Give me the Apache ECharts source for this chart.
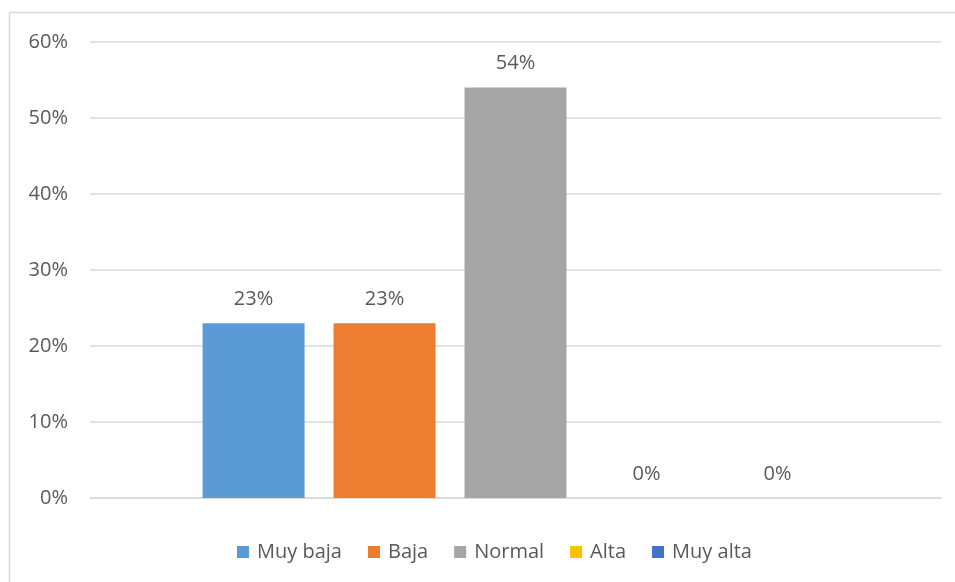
<!DOCTYPE html>
<html>
<head>
<meta charset="utf-8">
<script src="https://cdn.jsdelivr.net/npm/echarts@6/dist/echarts.min.js"></script>
<style>html,body{margin:0;padding:0;background:#fff;}#c{width:955px;height:582px;}</style>
</head>
<body>
<div id="c"></div>
<script>
var categories = [''];
var seriesNames = ['Muy baja', 'Baja', 'Normal', 'Alta', 'Muy alta'];
var seriesValues = [23, 23, 54, 0, 0];
var seriesColors = ['#5B9BD5', '#ED7D31', '#A5A5A5', '#FFC000', '#4472C4'];
var yTicks = [0, 10, 20, 30, 40, 50, 60];

var font = 'Open Sans';
var chart = echarts.init(document.getElementById('c'), null, {renderer: 'canvas'});
var series = seriesNames.map(function (n, i) {
  return {
    name: n,
    type: 'bar',
    data: [seriesValues[i]],
    barWidth: 102,
    barGap: '28.4%',
    itemStyle: {color: seriesColors[i]},
    label: {
      show: true, position: 'top', distance: 14,
      formatter: function (p) { return p.value + '%'; },
      color: '#595959', fontSize: 20, fontFamily: font
    }
  };
});
chart.setOption({
  animation: false,
  graphic: [{
    type: 'rect', shape: {x: 9.5, y: 12.5, width: 980, height: 620},
    style: {fill: null, stroke: '#D9D9D9', lineWidth: 1.5}
  }],
  grid: {left: 90, right: 14, top: 42, bottom: 84},
  legend: {
    top: 537, left: 232,
    itemWidth: 12, itemHeight: 12, itemGap: 26,
    icon: 'rect',
    textStyle: {color: '#595959', fontSize: 20, fontFamily: font, padding: [0, 0, 0, 3]},
    data: seriesNames
  },
  xAxis: {
    type: 'category', data: categories,
    axisLine: {show: true, lineStyle: {color: '#D9D9D9', width: 1.5}},
    axisTick: {show: false}, axisLabel: {show: false}
  },
  yAxis: {
    type: 'value', min: yTicks[0], max: yTicks[yTicks.length - 1], interval: 10,
    axisLine: {show: false}, axisTick: {show: false},
    axisLabel: {formatter: '{value}%', color: '#595959', fontSize: 20, fontFamily: font, margin: 22},
    splitLine: {lineStyle: {color: '#D9D9D9', width: 1.5}}
  },
  series: series
});
</script>
</body>
</html>
